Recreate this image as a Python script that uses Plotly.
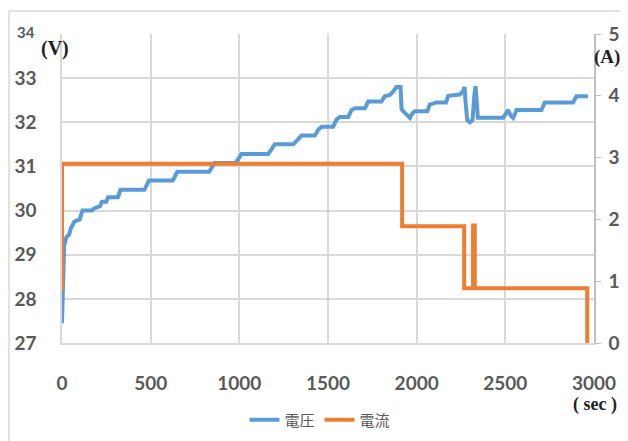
import plotly.graph_objects as go

# Voltage (V) vs time (sec)
volt_t = [0, 3, 6, 12, 25, 40, 50, 70, 100, 115, 170, 180, 215, 225, 250, 260, 315, 330, 465, 480, 490,
          625, 640, 650, 830, 845, 860, 980, 1000, 1012, 1163, 1182, 1200, 1304, 1332, 1351, 1426, 1445,
          1464, 1529, 1548, 1567, 1614, 1633, 1651, 1708, 1727, 1802, 1820, 1849, 1868, 1886, 1909, 1915,
          1924, 1943, 1962, 1975, 1990, 2060, 2074, 2112, 2165, 2178, 2243, 2262, 2270, 2275, 2285, 2300,
          2315, 2325, 2332, 2338, 2345, 2488, 2505, 2516, 2530, 2544, 2555, 2563, 2704, 2715, 2723, 2882,
          2895, 2901, 2966]
volt_v = [27.45, 28.2, 29.1, 29.2, 29.4, 29.45, 29.6, 29.75, 29.8, 30.0, 30.0, 30.05, 30.1, 30.2, 30.2, 30.3,
          30.3, 30.47, 30.47, 30.6, 30.68, 30.68, 30.8, 30.88, 30.88, 31.0, 31.08, 31.08, 31.22, 31.28,
          31.28, 31.41, 31.5, 31.5, 31.64, 31.7, 31.7, 31.83, 31.9, 31.9, 32.06, 32.12, 32.12, 32.28, 32.32,
          32.32, 32.47, 32.47, 32.59, 32.62, 32.7, 32.8, 32.8, 32.3, 32.25, 32.17, 32.1, 32.2, 32.25, 32.25,
          32.4, 32.45, 32.45, 32.6, 32.63, 32.7, 32.8, 32.5, 32.05, 32.0, 32.05, 32.6, 32.82, 32.5, 32.1,
          32.1, 32.2, 32.28, 32.15, 32.1, 32.2, 32.28, 32.28, 32.4, 32.45, 32.45, 32.55, 32.59, 32.59]

# Current (A) vs time (sec)
curr_t = [0, 0, 1918, 1918, 2268, 2268, 2318, 2318, 2328, 2328, 2962, 2962]
curr_a = [0.85, 2.9, 2.9, 1.89, 1.89, 0.885, 0.885, 1.9, 1.9, 0.885, 0.885, 0]

x_ticks = [0, 500, 1000, 1500, 2000, 2500, 3000]
v_ticks = [27, 28, 29, 30, 31, 32, 33]
a_ticks = [0, 1, 2, 3, 4, 5]

BLUE = "#5B9BD5"
ORANGE = "#ED7D31"
GRID = "#D9D9D9"
TXT = "#595959"
FONT = "Lato"
CJK = "Noto Sans CJK JP"
TICKFONT = dict(family=FONT, size=19, color=TXT, weight="bold")

fig = go.Figure()
fig.add_trace(go.Scatter(x=volt_t, y=volt_v, mode="lines", name="電圧",
                         line=dict(color=BLUE, width=4), yaxis="y"))
fig.add_trace(go.Scatter(x=curr_t, y=curr_a, mode="lines", name="電流",
                         line=dict(color=ORANGE, width=4), yaxis="y2"))

# page body has an 8px default margin; figure sized so the plot area lands at page (62..594, 34..343)
OFF = 8
W, H = 620, 433
L, T = 62 - OFF, 34 - OFF
pw, ph = 532, 309
R, B = W - L - pw, H - T - ph


def px(x):
    return (x - OFF - L) / pw


def py(y):
    return (T + ph - (y - OFF)) / ph


fig.update_layout(
    width=W, height=H,
    margin=dict(l=L, r=R, t=T, b=B, autoexpand=False),
    paper_bgcolor="white", plot_bgcolor="white",
    font=dict(family=FONT, color=TXT, size=19),
    xaxis=dict(range=[0, 3000], tickvals=x_ticks, showgrid=True, gridcolor=GRID, gridwidth=1.5,
               showline=True, linecolor=GRID, linewidth=1.5, zeroline=False, ticks="",
               ticklabelstandoff=22, fixedrange=True, automargin=False, tickfont=TICKFONT),
    yaxis=dict(range=[27, 34], tickvals=v_ticks, showgrid=True, gridcolor=GRID, gridwidth=1.5,
               showline=True, linecolor=GRID, linewidth=1.5, zeroline=False, ticks="",
               ticklabelstandoff=20, fixedrange=True, automargin=False, tickfont=TICKFONT),
    yaxis2=dict(range=[0, 5], tickvals=a_ticks, overlaying="y", side="right", showgrid=False,
                showline=True, linecolor="#BFBFBF", linewidth=1.5, zeroline=False, ticks="outside",
                ticklen=5, tickcolor="#BFBFBF", ticklabelstandoff=4, fixedrange=True,
                automargin=False, tickfont=TICKFONT),
    legend=dict(orientation="h", x=(320 - OFF) / W, y=(H - (420 - OFF)) / H, xref="container",
                yref="container", xanchor="center", yanchor="middle",
                font=dict(family=CJK, size=15, color=TXT), bgcolor="rgba(0,0,0,0)"),
    showlegend=True,
)

ann = dict(xref="paper", yref="paper", showarrow=False, xanchor="center", yanchor="middle")
fig.add_annotation(text="34", x=px(26), y=py(32),
                   font=dict(family=FONT, size=15, color=TXT, weight="bold"), **ann)
fig.add_annotation(text="<b>(V)</b>", x=px(55), y=py(49),
                   font=dict(family="Liberation Serif", size=20, color="#222222"), **ann)
fig.add_annotation(text="<b>(A)</b>", x=px(607), y=py(57),
                   font=dict(family="Liberation Serif", size=19, color="#222222"), **ann)
fig.add_annotation(text="<b>( sec )</b>", x=px(595), y=py(404),
                   font=dict(family="Liberation Serif", size=18, color="#222222"), **ann)

# outer chart frame
fig.add_shape(type="rect", xref="paper", yref="paper", x0=px(9), x1=px(660), y0=py(470), y1=py(11),
              line=dict(color="#D9D9D9", width=1.5), layer="above")

fig.write_html("out.html")
